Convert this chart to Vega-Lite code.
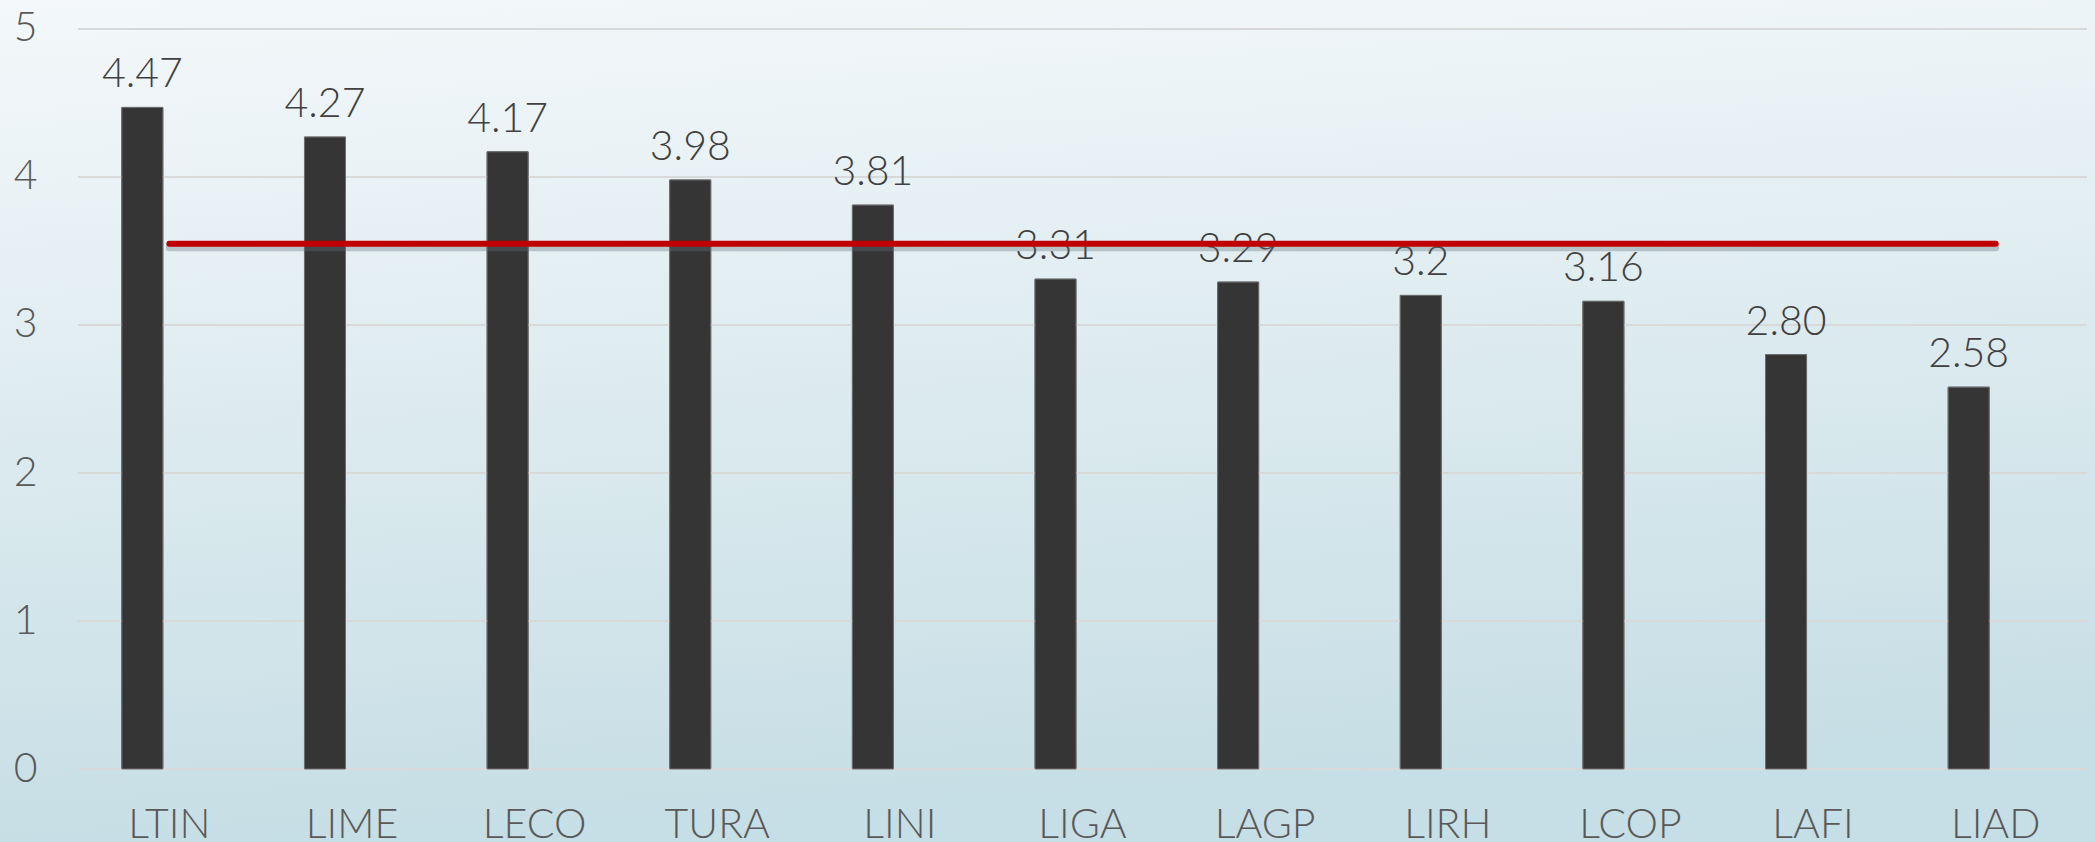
{
  "$schema": "https://vega.github.io/schema/vega-lite/v6.json",
  "width": 2095,
  "height": 842,
  "autosize": {"type": "none"},
  "padding": 0,
  "background": "#DDEAEE",
  "config": {
    "view": {
      "stroke": null,
      "fill": {
        "gradient": "linear",
        "x1": 0, "y1": 0, "x2": 0.15, "y2": 1,
        "stops": [
          {"offset": 0, "color": "#F4F8FA"},
          {"offset": 1, "color": "#C6DEE5"}
        ]
      }
    },
    "axis": {"grid": false, "domain": false, "ticks": false, "tickSize": 0, "labelPadding": 0, "labelFont": "Lato", "labelFontWeight": 300, "labelFontSize": 41, "labelColor": "#595959"}
  },
  "datasets": {
    "scores": [
      {"cat": "LTIN", "value": 4.47, "label": "4.47"},
      {"cat": "LIME", "value": 4.27, "label": "4.27"},
      {"cat": "LECO", "value": 4.17, "label": "4.17"},
      {"cat": "TURA", "value": 3.98, "label": "3.98"},
      {"cat": "LINI", "value": 3.81, "label": "3.81"},
      {"cat": "LIGA", "value": 3.31, "label": "3.31"},
      {"cat": "LAGP", "value": 3.29, "label": "3.29"},
      {"cat": "LIRH", "value": 3.2, "label": "3.2"},
      {"cat": "LCOP", "value": 3.16, "label": "3.16"},
      {"cat": "LAFI", "value": 2.8, "label": "2.80"},
      {"cat": "LIAD", "value": 2.58, "label": "2.58"}
    ],
    "grid": [{"g": 0}, {"g": 1}, {"g": 2}, {"g": 3}, {"g": 4}, {"g": 5}]
  },
  "layer": [
    {
      "data": {"name": "scores"},
      "mark": {"type": "bar", "color": "#353535", "width": 41, "xOffset": -27, "stroke": "#6e6e6e", "strokeWidth": 1},
      "encoding": {
        "x": {"field": "cat", "type": "nominal", "title": null,
              "scale": {"domain": ["LTIN","LIME","LECO","TURA","LINI","LIGA","LAGP","LIRH","LCOP","LAFI","LIAD"], "paddingInner": 0, "paddingOuter": 0.2355, "align": 0.907},
              "axis": {"orient": "bottom", "offset": -37, "labelAngle": 0, "labelAlign": "center", "bandPosition": 0.5}},
        "y": {"field": "value", "type": "quantitative", "title": null,
              "scale": {"domain": [-0.4932, 5.1959], "nice": false},
              "axis": {"values": [0, 1, 2, 3, 4, 5], "format": "d", "orient": "left", "offset": -37}}
      }
    },
    {
      "data": {"name": "grid"},
      "mark": {"type": "rule", "color": "#D8D9D9", "strokeWidth": 2},
      "encoding": {
        "y": {"field": "g", "type": "quantitative", "title": null},
        "x": {"datum": "LTIN", "type": "nominal", "bandPosition": 0, "title": null},
        "x2": {"datum": "LIAD", "bandPosition": 1}
      }
    },
    {
      "data": {"name": "scores"},
      "mark": {"type": "bar", "color": "#353535", "width": 41, "xOffset": -27, "stroke": "#6e6e6e", "strokeWidth": 1},
      "encoding": {
        "x": {"field": "cat", "type": "nominal", "title": null},
        "y": {"field": "value", "type": "quantitative", "title": null}
      }
    },
    {
      "data": {"name": "scores"},
      "mark": {"type": "text", "font": "Lato", "fontWeight": 300, "fontSize": 41, "color": "#404040", "baseline": "alphabetic", "dy": -20, "xOffset": -27},
      "encoding": {
        "x": {"field": "cat", "type": "nominal", "title": null},
        "y": {"field": "value", "type": "quantitative", "title": null},
        "text": {"field": "label"}
      }
    },
    {
      "data": {"name": "scores"},
      "transform": [{"joinaggregate": [{"op": "mean", "field": "value", "as": "avg"}]}],
      "mark": {"type": "line", "color": "#5f7077", "opacity": 0.35, "strokeWidth": 7, "yOffset": 4, "strokeCap": "round"},
      "encoding": {
        "x": {"field": "cat", "type": "nominal", "title": null},
        "y": {"field": "avg", "type": "quantitative", "title": null}
      }
    },
    {
      "data": {"name": "scores"},
      "transform": [{"joinaggregate": [{"op": "mean", "field": "value", "as": "avg"}]}],
      "mark": {"type": "line", "color": "#C00000", "strokeWidth": 6, "strokeCap": "round"},
      "encoding": {
        "x": {"field": "cat", "type": "nominal", "title": null},
        "y": {"field": "avg", "type": "quantitative", "title": null}
      }
    }
  ]
}
